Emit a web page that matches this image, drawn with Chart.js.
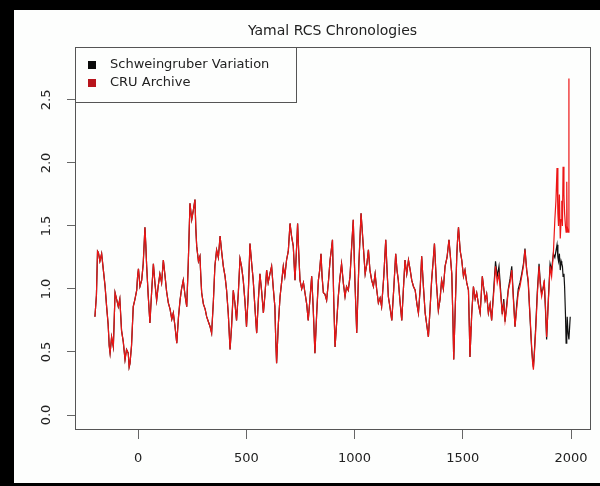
<!DOCTYPE html>
<html>
<head>
<meta charset="utf-8">
<script src="https://cdn.jsdelivr.net/npm/chart.js@4/dist/chart.umd.min.js"></script>
<style>
  html, body { margin: 0; padding: 0; background: #fff; }
</style>
</head>
<body>
<canvas id="yamalChart" width="600" height="486"></canvas>
<script>
  // values; both series agree until the 1640s
  const commonYears = [
    -199, -192, -187, -183, -176, -168, -160, -152, -145, -138,
    -133, -129, -122, -114, -110, -106, -99, -91, -84, -76,
    -68, -60, -53, -45, -41, -37, -30, -22, -14, -6,
    -2, 2, 9, 17, 24, 32, 36, 40, 47, 55,
    63, 71, 78, 86, 93, 101, 109, 117, 125, 132,
    140, 148, 156, 163, 171, 179, 187, 194, 201, 209,
    217, 225, 232, 240, 248, 255, 263, 267, 271, 279,
    286, 290, 294, 302, 310, 317, 325, 333, 340, 348,
    355, 363, 371, 379, 386, 394, 402, 409, 417, 425,
    432, 440, 448, 455, 463, 471, 478, 486, 494, 501,
    509, 517, 525, 532, 540, 548, 556, 563, 571, 579,
    586, 594, 601, 609, 617, 624, 632, 636, 640, 648,
    656, 663, 671, 678, 686, 694, 702, 709, 717, 721,
    725, 731, 737, 742, 748, 756, 764, 771, 779, 786,
    794, 802, 809, 817, 825, 833, 839, 845, 850, 856,
    863, 871, 879, 887, 892, 898, 904, 910, 918, 925,
    932, 940, 948, 956, 963, 971, 979, 987, 994, 1002,
    1010, 1020, 1030, 1040, 1049, 1057, 1064, 1071, 1079, 1087,
    1095, 1102, 1110, 1118, 1125, 1135, 1144, 1150, 1156, 1164,
    1172, 1181, 1190, 1196, 1202, 1210, 1218, 1225, 1233, 1241,
    1249, 1257, 1264, 1272, 1280, 1288, 1295, 1303, 1310, 1318,
    1326, 1333, 1341, 1349, 1356, 1362, 1369, 1378, 1387, 1395,
    1402, 1410, 1418, 1427, 1436, 1443, 1449, 1454, 1458, 1465,
    1472, 1476, 1480, 1488, 1495, 1503, 1510, 1518, 1526, 1530,
    1533, 1541, 1549, 1557, 1564, 1572, 1580, 1585, 1590, 1597,
    1603, 1610, 1618, 1626, 1633
  ];
  const commonValues = [
    0.78, 0.95, 1.30, 1.29, 1.22, 1.28, 1.15, 1.02, 0.86, 0.72,
    0.55, 0.49, 0.62, 0.54, 0.75, 0.97, 0.92, 0.86, 0.92, 0.67,
    0.58, 0.44, 0.52, 0.49, 0.38, 0.41, 0.55, 0.86, 0.92, 0.99,
    1.10, 1.16, 1.02, 1.07, 1.20, 1.49, 1.35, 1.18, 0.95, 0.73,
    0.98, 1.20, 1.05, 0.91, 1.02, 1.12, 1.05, 1.23, 1.10, 0.98,
    0.89, 0.84, 0.76, 0.81, 0.70, 0.57, 0.78, 0.91, 1.00, 1.07,
    0.95, 0.86, 1.20, 1.68, 1.55, 1.62, 1.71, 1.48, 1.34, 1.22,
    1.26, 1.10, 0.97, 0.88, 0.84, 0.78, 0.74, 0.70, 0.65, 0.90,
    1.18, 1.31, 1.25, 1.42, 1.30, 1.18, 1.10, 0.99, 0.80, 0.52,
    0.70, 0.99, 0.88, 0.75, 0.96, 1.24, 1.18, 1.07, 0.90, 0.70,
    0.95, 1.36, 1.20, 1.07, 0.85, 0.65, 0.92, 1.12, 0.98, 0.81,
    0.95, 1.15, 1.05, 1.12, 1.18, 1.02, 0.86, 0.60, 0.41, 0.72,
    0.94, 1.05, 1.18, 1.10, 1.23, 1.30, 1.52, 1.42, 1.34, 1.20,
    1.07, 1.28, 1.52, 1.30, 1.07, 1.00, 1.05, 0.97, 0.88, 0.75,
    0.92, 1.10, 0.85, 0.49, 0.80, 1.07, 1.15, 1.28, 1.10, 0.97,
    0.96, 0.91, 1.05, 1.23, 1.30, 1.39, 0.90, 0.54, 0.75, 0.94,
    1.08, 1.20, 1.05, 0.94, 1.02, 0.99, 1.10, 1.35, 1.55, 1.05,
    0.65, 1.20, 1.60, 1.35, 1.12, 1.20, 1.31, 1.15, 1.07, 1.02,
    1.12, 1.00, 0.89, 0.93, 0.86, 1.10, 1.39, 1.15, 0.94, 0.85,
    0.75, 1.00, 1.28, 1.15, 1.07, 0.90, 0.75, 0.98, 1.23, 1.12,
    1.23, 1.15, 1.07, 1.02, 0.99, 0.88, 0.81, 1.00, 1.26, 1.02,
    0.81, 0.72, 0.62, 0.85, 1.07, 1.20, 1.36, 1.05, 0.83, 0.92,
    1.07, 1.00, 1.18, 1.25, 1.39, 1.25, 1.12, 0.78, 0.44, 0.85,
    1.26, 1.40, 1.49, 1.30, 1.23, 1.10, 1.15, 1.05, 0.99, 0.70,
    0.46, 0.80, 1.02, 0.92, 0.97, 0.88, 0.81, 0.95, 1.10, 1.00,
    0.91, 0.96, 0.81, 0.88, 0.75
  ];

  // from the 1640s on the two versions part ways
  const lateYears = [
    1642, 1651, 1659, 1667, 1675, 1682, 1689, 1695, 1703, 1710,
    1718, 1726, 1734, 1741, 1749, 1756, 1764, 1772, 1780, 1787,
    1795, 1802, 1810, 1818, 1822, 1826, 1831, 1836, 1844, 1852,
    1858, 1864, 1870, 1876, 1882, 1887, 1895, 1903, 1910, 1918,
    1925, 1930, 1935, 1939, 1942, 1946, 1950, 1954, 1957, 1960,
    1963, 1967, 1970, 1974, 1977, 1980, 1982, 1986, 1990, 1996
  ];
  const cruLate = [
    0.95, 1.18, 1.05, 1.12, 0.95, 0.81, 0.88, 0.75, 0.86, 0.99,
    1.05, 1.15, 0.90, 0.70, 0.85, 0.97, 1.02, 1.10, 1.18, 1.31,
    1.15, 1.07, 0.80, 0.54, 0.42, 0.36, 0.50, 0.65, 0.95, 1.18,
    1.02, 0.94, 1.00, 1.07, 0.85, 0.62, 0.90, 1.18, 1.10, 1.28,
    1.55, 1.70, 1.96, 1.60, 1.50, 1.75, 1.40, 1.55, 1.70, 1.50,
    1.97, 1.75, 1.60, 1.50, 1.45, 1.85, 1.50, 1.45, 2.67, null
  ];
  const schweingruberLate = [
    0.98, 1.22, 1.10, 1.18, 0.98, 0.80, 0.92, 0.74, 0.88, 1.00,
    1.08, 1.18, 0.92, 0.70, 0.88, 1.00, 1.05, 1.12, 1.20, 1.32,
    1.15, 1.05, 0.78, 0.52, 0.44, 0.38, 0.52, 0.68, 0.98, 1.20,
    1.05, 0.96, 1.00, 1.05, 0.82, 0.60, 0.92, 1.20, 1.15, 1.28,
    1.25, 1.30, 1.35, 1.25, 1.22, 1.28, 1.15, 1.22, 1.20, 1.18,
    1.10, 1.12, 1.02, 0.80, 0.57, 0.65, 0.78, 0.65, 0.60, 0.78
  ];

  const xTicks = [0, 500, 1000, 1500, 2000];
  const yTicks = [0, 0.5, 1, 1.5, 2, 2.5];
  const yTickLabels = ['0.0', '0.5', '1.0', '1.5', '2.0', '2.5'];
  const chartTitle = 'Yamal RCS Chronologies';
  const seriesLabels = ['Schweingruber Variation', 'CRU Archive'];
  const seriesColors = ['#111111', '#ec1616'];
  const legendColors = ['#0a0a0a', '#b8141c'];

  function toPoints(lateValues) {
    const xs = commonYears.concat(lateYears);
    const ys = commonValues.concat(lateValues);
    return xs
      .map((x, i) => ({ x: x, y: ys[i] }))
      .filter(p => p.y !== null);
  }

  Chart.defaults.font.family = '"DejaVu Sans", sans-serif';

  const rStyle = {
    id: 'rStyle',
    beforeDraw(chart) {
      const ctx = chart.ctx;
      ctx.save();
      ctx.fillStyle = '#000';
      ctx.fillRect(0, 0, chart.width, chart.height);
      ctx.fillStyle = '#fdfefd';
      ctx.fillRect(14, 10, chart.width - 14, chart.height - 13);
      ctx.restore();
    },
    afterDraw(chart) {
      const ctx = chart.ctx;
      const a = chart.chartArea;
      ctx.save();

      // plot box
      ctx.strokeStyle = '#555';
      ctx.lineWidth = 1;
      ctx.strokeRect(Math.round(a.left) + 0.5, Math.round(a.top) + 0.5,
        Math.round(a.right - a.left), Math.round(a.bottom - a.top));

      // title
      ctx.fillStyle = '#222';
      ctx.font = '14px "DejaVu Sans"';
      ctx.textAlign = 'center';
      ctx.textBaseline = 'middle';
      ctx.fillText(chartTitle, (a.left + a.right) / 2, 31);

      // y tick labels, rotated like R
      const ys = chart.scales.y;
      ctx.font = '13px "DejaVu Sans"';
      yTicks.forEach((v, i) => {
        ctx.save();
        ctx.translate(47, ys.getPixelForValue(v));
        ctx.rotate(-Math.PI / 2);
        ctx.fillText(yTickLabels[i], 0, 0);
        ctx.restore();
      });

      // legend box in the top-left corner
      const lx = Math.round(a.left) + 0.5;
      const ly = Math.round(a.top) + 0.5;
      ctx.fillStyle = '#fdfefd';
      ctx.fillRect(lx, ly, 221, 55);
      ctx.strokeStyle = '#555';
      ctx.strokeRect(lx, ly, 221, 55);
      ctx.textAlign = 'left';
      ctx.font = '13px "DejaVu Sans"';
      chart.data.datasets.forEach((ds, i) => {
        const cy = 65 + i * 18;
        ctx.fillStyle = legendColors[i];
        ctx.fillRect(88, cy - 4, 8, 8);
        ctx.fillStyle = '#222';
        ctx.fillText(ds.label, 110, cy);
      });
      ctx.restore();
    }
  };

  const ctx = document.getElementById('yamalChart').getContext('2d');
  new Chart(ctx, {
    type: 'line',
    data: {
      datasets: [
        {
          label: seriesLabels[0],
          data: toPoints(schweingruberLate),
          borderColor: seriesColors[0],
          borderWidth: 1.2,
          pointRadius: 0,
          tension: 0,
          order: 1
        },
        {
          label: seriesLabels[1],
          data: toPoints(cruLate),
          borderColor: seriesColors[1],
          borderWidth: 1.2,
          pointRadius: 0,
          tension: 0,
          order: 0
        }
      ]
    },
    options: {
      responsive: false,
      animation: false,
      layout: { padding: { top: 47, right: 10, bottom: 0, left: 0 } },
      plugins: {
        legend: { display: false },
        title: { display: false },
        tooltip: { enabled: false }
      },
      scales: {
        x: {
          type: 'linear',
          min: -291,
          max: 2087,
          afterBuildTicks: s => { s.ticks = xTicks.map(v => ({ value: v })); },
          afterFit: s => { s.height = 57; },
          border: { display: false },
          grid: { drawOnChartArea: false, drawTicks: true, tickLength: 10, color: '#666' },
          ticks: {
            color: '#222',
            font: { size: 13 },
            padding: 12,
            maxRotation: 0,
            callback: v => String(v)
          }
        },
        y: {
          type: 'linear',
          min: -0.111,
          max: 2.92,
          afterBuildTicks: s => { s.ticks = yTicks.map(v => ({ value: v })); },
          afterFit: s => { s.width = 75; },
          border: { display: false },
          grid: { drawOnChartArea: false, drawTicks: true, tickLength: 8, color: '#666' },
          ticks: { display: false }
        }
      }
    },
    plugins: [rStyle]
  });
</script>
</body>
</html>
